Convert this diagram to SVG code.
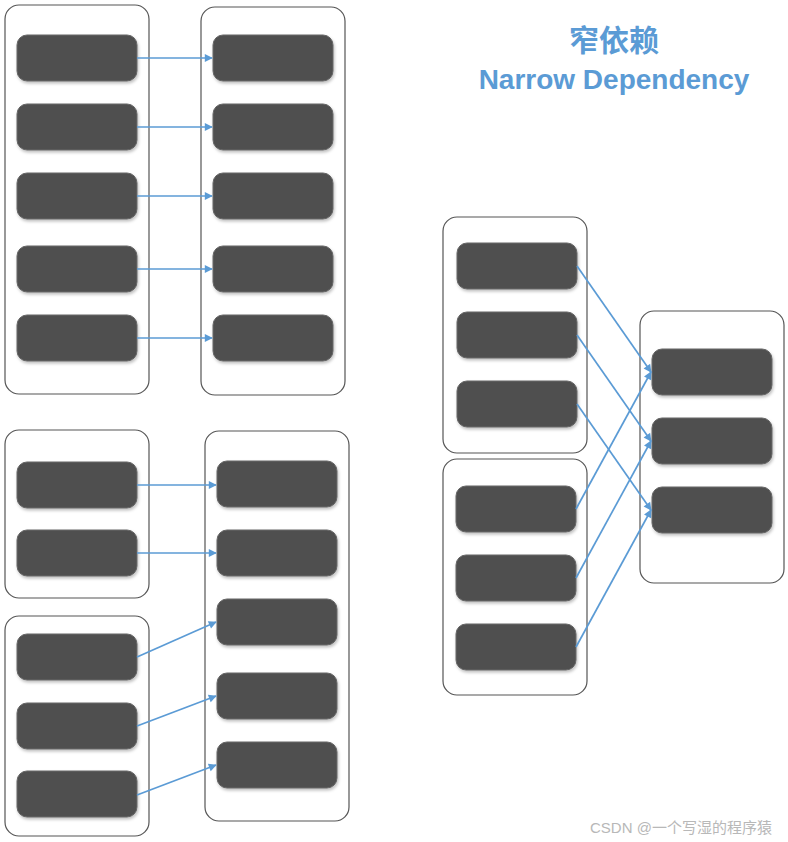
<svg xmlns="http://www.w3.org/2000/svg" width="788" height="842" viewBox="0 0 788 842">
<style>
.box{fill:#fff;stroke:#555;stroke-width:1.2}
.n{fill:#505050;stroke:#666;stroke-width:1}
.c{stroke:#5b9bd5;stroke-width:1.7;fill:none;marker-end:url(#ah)}
.t{font-family:"Liberation Sans","Noto Sans CJK SC",sans-serif;font-weight:bold;fill:#5b9bd5;text-anchor:middle}
.w{font-family:"Liberation Sans","Noto Sans CJK SC",sans-serif;fill:#b8b8b8;font-size:15px}
</style>
<defs>
<marker id="ah" viewBox="0 0 10 10" refX="9" refY="5" markerWidth="8" markerHeight="8" orient="auto" markerUnits="userSpaceOnUse" overflow="visible">
<path d="M0,0 L10,5 L0,10 z" fill="#5b9bd5"/>
</marker>
<filter id="sh" x="-10%" y="-10%" width="130%" height="140%"><feDropShadow dx="1" dy="2" stdDeviation="1.5" flood-color="#000" flood-opacity="0.25"/></filter>
</defs>
<rect width="788" height="842" fill="#fff"/>
<g id="title">
<text class="t" x="614" y="51" font-size="30">窄依赖</text>
<text class="t" x="614" y="89" font-size="28">Narrow Dependency</text>
</g>
<g id="boxA"><rect class="box" x="5" y="5" width="144" height="389" rx="14"/></g>
<g id="boxB"><rect class="box" x="201" y="7" width="144" height="388" rx="14"/></g>
<g filter="url(#sh)">
<g id="a1"><rect class="n" x="17" y="35" width="120" height="46" rx="10"/></g>
<g id="a2"><rect class="n" x="17" y="104" width="120" height="46" rx="10"/></g>
<g id="a3"><rect class="n" x="17" y="173" width="120" height="46" rx="10"/></g>
<g id="a4"><rect class="n" x="17" y="246" width="120" height="46" rx="10"/></g>
<g id="a5"><rect class="n" x="17" y="315" width="120" height="46" rx="10"/></g>
<g id="b1"><rect class="n" x="213" y="35" width="120" height="46" rx="10"/></g>
<g id="b2"><rect class="n" x="213" y="104" width="120" height="46" rx="10"/></g>
<g id="b3"><rect class="n" x="213" y="173" width="120" height="46" rx="10"/></g>
<g id="b4"><rect class="n" x="213" y="246" width="120" height="46" rx="10"/></g>
<g id="b5"><rect class="n" x="213" y="315" width="120" height="46" rx="10"/></g>
</g>
<g id="boxC"><rect class="box" x="5" y="430" width="144" height="168" rx="14"/></g>
<g id="boxD"><rect class="box" x="5" y="616" width="144" height="220" rx="14"/></g>
<g id="boxE"><rect class="box" x="205" y="431" width="144" height="390" rx="14"/></g>
<g filter="url(#sh)">
<g id="c1"><rect class="n" x="17" y="462" width="120" height="46" rx="10"/></g>
<g id="c2"><rect class="n" x="17" y="530" width="120" height="46" rx="10"/></g>
<g id="d1"><rect class="n" x="17" y="634" width="120" height="46" rx="10"/></g>
<g id="d2"><rect class="n" x="17" y="703" width="120" height="46" rx="10"/></g>
<g id="d3"><rect class="n" x="17" y="771" width="120" height="46" rx="10"/></g>
<g id="e1"><rect class="n" x="217" y="461" width="120" height="46" rx="10"/></g>
<g id="e2"><rect class="n" x="217" y="530" width="120" height="46" rx="10"/></g>
<g id="e3"><rect class="n" x="217" y="599" width="120" height="46" rx="10"/></g>
<g id="e4"><rect class="n" x="217" y="673" width="120" height="46" rx="10"/></g>
<g id="e5"><rect class="n" x="217" y="742" width="120" height="46" rx="10"/></g>
</g>
<g id="boxF"><rect class="box" x="443" y="217" width="144" height="236" rx="14"/></g>
<g id="boxG"><rect class="box" x="443" y="459" width="144" height="236" rx="14"/></g>
<g id="boxH"><rect class="box" x="640" y="311" width="144" height="272" rx="14"/></g>
<g filter="url(#sh)">
<g id="f1"><rect class="n" x="457" y="243" width="120" height="46" rx="10"/></g>
<g id="f2"><rect class="n" x="457" y="312" width="120" height="46" rx="10"/></g>
<g id="f3"><rect class="n" x="457" y="381" width="120" height="46" rx="10"/></g>
<g id="g1"><rect class="n" x="456" y="486" width="120" height="46" rx="10"/></g>
<g id="g2"><rect class="n" x="456" y="555" width="120" height="46" rx="10"/></g>
<g id="g3"><rect class="n" x="456" y="624" width="120" height="46" rx="10"/></g>
<g id="h1"><rect class="n" x="652" y="349" width="120" height="46" rx="10"/></g>
<g id="h2"><rect class="n" x="652" y="418" width="120" height="46" rx="10"/></g>
<g id="h3"><rect class="n" x="652" y="487" width="120" height="46" rx="10"/></g>
</g>
<g id="connectors">
<line class="c" x1="137" y1="58" x2="212" y2="58"/>
<line class="c" x1="137" y1="127" x2="212" y2="127"/>
<line class="c" x1="137" y1="196" x2="212" y2="196"/>
<line class="c" x1="137" y1="269" x2="212" y2="269"/>
<line class="c" x1="137" y1="338" x2="212" y2="338"/>
<line class="c" x1="137" y1="485" x2="216" y2="485"/>
<line class="c" x1="137" y1="553" x2="216" y2="553"/>
<line class="c" x1="137" y1="657" x2="216" y2="622"/>
<line class="c" x1="137" y1="726" x2="216" y2="696"/>
<line class="c" x1="137" y1="795" x2="216" y2="765"/>
<line class="c" x1="577" y1="266" x2="651" y2="372"/>
<line class="c" x1="577" y1="335" x2="651" y2="441"/>
<line class="c" x1="577" y1="404" x2="651" y2="510"/>
<line class="c" x1="576" y1="509" x2="651" y2="372"/>
<line class="c" x1="576" y1="578" x2="651" y2="441"/>
<line class="c" x1="576" y1="647" x2="651" y2="510"/>
</g>
<text class="w" x="590" y="833">CSDN @一个写湿的程序猿</text>
</svg>
